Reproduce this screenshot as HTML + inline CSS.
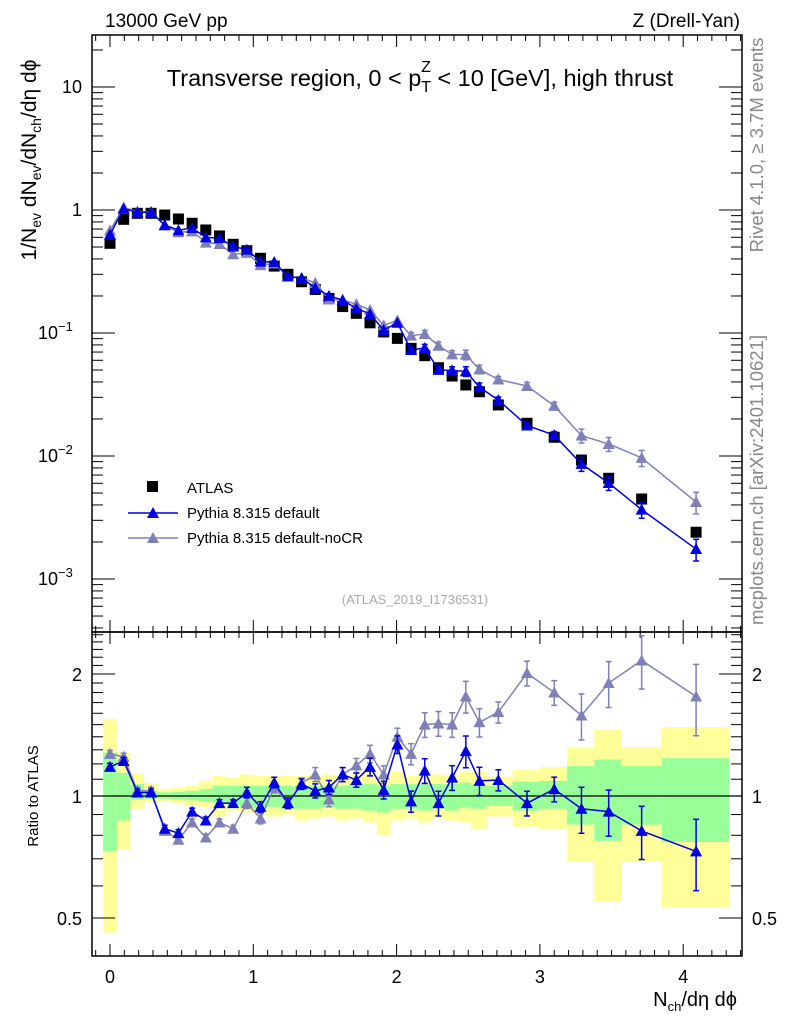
<!DOCTYPE html>
<html><head><meta charset="utf-8"><style>
body{margin:0;background:#fff;}
svg{display:block;font-family:"Liberation Sans",sans-serif;}
</style></head><body>
<svg id="chart" width="786" height="1024" viewBox="0 0 786 1024" xmlns="http://www.w3.org/2000/svg">
<g id="bands"></g>
<g id="axes"></g>
<g id="series"></g>
<text x="105" y="27" font-size="19">13000 GeV pp</text>
<text x="740" y="27" font-size="19" text-anchor="end">Z (Drell-Yan)</text>
<text x="420" y="86" font-size="23.5" text-anchor="middle">Transverse region, 0 &lt; p<tspan font-size="16" dy="6">T</tspan><tspan font-size="16" dx="-10" dy="-20">Z</tspan><tspan dy="14"> &lt; 10 [GeV], high thrust</tspan></text>
<text transform="translate(36,160) rotate(-90)" font-size="21" text-anchor="middle">1/N<tspan font-size="14" dy="5">ev</tspan><tspan dy="-5"> dN</tspan><tspan font-size="14" dy="5">ev</tspan><tspan dy="-5">/dN</tspan><tspan font-size="14" dy="5">ch</tspan><tspan dy="-5">/dη dϕ</tspan></text>
<text transform="translate(38,796) rotate(-90)" font-size="15" text-anchor="middle">Ratio to ATLAS</text>
<text x="737" y="1006" font-size="20" text-anchor="end">N<tspan font-size="13" dy="5">ch</tspan><tspan dy="-5">/dη dϕ</tspan></text>
<text transform="translate(763,145) rotate(-90)" font-size="18.5" fill="#888" text-anchor="middle">Rivet 4.1.0, ≥ 3.7M events</text>
<text transform="translate(763,480) rotate(-90)" font-size="18.5" fill="#888" text-anchor="middle">mcplots.cern.ch [arXiv:2401.10621]</text>
<text x="415" y="604" font-size="13" fill="#aaa" text-anchor="middle">(ATLAS_2019_I1736531)</text>
<g>
<rect x="147" y="481" width="11" height="11" fill="#000"/>
<text x="187" y="493" font-size="15">ATLAS</text>
<line x1="128" y1="513" x2="178" y2="513" stroke="#0000e0" stroke-width="1.5"/>
<path d="M153,507 L159,518 L147,518Z" fill="#0000e0"/>
<text x="187" y="518" font-size="15">Pythia 8.315 default</text>
<line x1="128" y1="538" x2="178" y2="538" stroke="#8080b8" stroke-width="1.5"/>
<path d="M153,532 L159,543 L147,543Z" fill="#8080b8"/>
<text x="187" y="543" font-size="15">Pythia 8.315 default-noCR</text>
</g>
</svg>
<script>
const xVals=[0,0.0955,0.191,0.2865,0.382,0.4775,0.573,0.6685,0.764,0.8595,0.955,1.0505,1.146,1.2415,1.337,1.4325,1.528,1.6235,1.719,1.8145,1.91,2.0055,2.101,2.1965,2.292,2.3875,2.483,2.578,2.71,2.91,3.10,3.29,3.48,3.71,4.09];
const binEdges=[-0.048,0.048,0.143,0.239,0.334,0.43,0.525,0.62,0.716,0.812,0.907,1.003,1.098,1.194,1.289,1.385,1.48,1.576,1.671,1.767,1.862,1.958,2.053,2.149,2.244,2.34,2.435,2.52,2.63,2.81,3.0,3.19,3.38,3.57,3.85,4.32];
const atlas=[0.536,0.84,0.94,0.94,0.91,0.845,0.78,0.688,0.615,0.526,0.467,0.405,0.35,0.30,0.261,0.226,0.191,0.164,0.1445,0.121,0.102,0.0904,0.075,0.0654,0.0522,0.0447,0.0378,0.0333,0.026,0.01845,0.0142,0.00927,0.00659,0.00447,0.0024];
const ratioDefault=[1.18,1.22,1.02,1.02,0.83,0.81,0.915,0.87,0.96,0.96,1.02,0.94,1.08,0.96,1.07,1.03,1.05,1.13,1.095,1.18,1.035,1.34,0.97,1.155,0.96,1.11,1.29,1.09,1.095,0.96,1.04,0.93,0.915,0.82,0.73];
const ratioNoCR=[1.27,1.25,1.03,1.03,0.82,0.78,0.86,0.79,0.86,0.83,0.96,0.88,1.05,0.96,1.075,1.13,0.98,1.13,1.19,1.27,1.13,1.40,1.27,1.50,1.51,1.50,1.76,1.52,1.61,2.01,1.80,1.58,1.90,2.16,1.76];
const relErr=[0.02,0.02,0.02,0.02,0.02,0.02,0.02,0.02,0.02,0.02,0.03,0.03,0.03,0.03,0.03,0.04,0.04,0.04,0.04,0.05,0.05,0.05,0.06,0.07,0.07,0.07,0.09,0.08,0.06,0.07,0.07,0.13,0.13,0.15,0.2];
const yellowUp=[1.55,1.28,1.14,1.075,1.04,1.05,1.06,1.09,1.12,1.11,1.13,1.12,1.12,1.12,1.12,1.12,1.13,1.12,1.13,1.14,1.12,1.15,1.12,1.14,1.13,1.12,1.15,1.15,1.116,1.16,1.18,1.32,1.455,1.32,1.48];
const yellowDn=[0.46,0.74,0.93,0.965,0.97,0.96,0.95,0.94,0.89,0.92,0.91,0.90,0.89,0.90,0.87,0.88,0.89,0.87,0.88,0.86,0.80,0.87,0.88,0.86,0.88,0.87,0.86,0.83,0.89,0.84,0.83,0.69,0.55,0.69,0.53];
const greenUp=[1.28,1.14,1.07,1.03,1.02,1.025,1.03,1.04,1.06,1.06,1.06,1.06,1.06,1.06,1.06,1.06,1.06,1.06,1.07,1.07,1.06,1.07,1.07,1.07,1.07,1.07,1.08,1.06,1.06,1.085,1.09,1.185,1.23,1.185,1.24];
const greenDn=[0.73,0.87,0.98,0.985,0.985,0.98,0.975,0.97,0.96,0.95,0.94,0.93,0.94,0.93,0.93,0.93,0.94,0.93,0.93,0.92,0.91,0.93,0.93,0.92,0.93,0.92,0.935,0.93,0.946,0.92,0.93,0.85,0.775,0.85,0.77];
const xTicks=[0,1,2,3,4];
const mainTicks=[1,0,-1,-2,-3];
const ratioTicks=[2,1,0.5];

const NS="http://www.w3.org/2000/svg";
const L=92,R=742,MT=35,MB=632,RT=632,RB=956;
const X=v=>110+v*143.3;
const YM=v=>210-123*Math.log10(v);
const YR=v=>796-405.3*Math.log10(v);
function mk(tag,attrs,parent){const e=document.createElementNS(NS,tag);for(const k in attrs)e.setAttribute(k,attrs[k]);parent.appendChild(e);return e;}
const axes=document.getElementById('axes'),ser=document.getElementById('series'),bands=document.getElementById('bands');

for(let i=0;i<xVals.length;i++){
  const x1=Math.max(X(binEdges[i]),L+1),x2=X(binEdges[i+1]);
  let r=mk('rect',{x:x1,y:YR(yellowUp[i]),width:x2-x1,height:YR(yellowDn[i])-YR(yellowUp[i]),fill:'#ffff99'},bands);
  
  
  r=mk('rect',{x:x1,y:YR(greenUp[i]),width:x2-x1,height:YR(greenDn[i])-YR(greenUp[i]),fill:'#99ff99'},bands);
  
  
}
let f=mk('rect',{x:L,y:MT,width:R-L,height:MB-MT,fill:'none',stroke:'#000','stroke-width':1.5},axes);


f=mk('rect',{x:L,y:RT,width:R-L,height:RB-RT,fill:'none',stroke:'#000','stroke-width':1.5},axes);


let one=mk('line',{x1:L,x2:R,y1:YR(1),y2:YR(1),stroke:'#000','stroke-width':1.2},axes);


for(let t=-1;t<=44;t++){
  const v=t/10,x=X(v);if(x<L+1||x>R-1)continue;
  const len=(t%10===0)?12:6;
  [[MT,1],[MB,-1],[RT,1],[RB,-1]].forEach(([y,d])=>mk('line',{x1:x,x2:x,y1:y,y2:y+d*len,stroke:'#000'},axes));
}
xTicks.forEach(v=>{const t=mk('text',{x:X(v),y:983,'font-size':18,'text-anchor':'middle'},axes);t.textContent=v;
  
  });
for(let d=-4;d<=1;d++)for(let m=1;m<=9;m++){
  const v=m*Math.pow(10,d),y=YM(v);if(y<MT+1||y>MB-1)continue;
  const len=m===1?23:11;
  mk('line',{x1:L,x2:L+len,y1:y,y2:y,stroke:'#000'},axes);
  mk('line',{x1:R,x2:R-len,y1:y,y2:y,stroke:'#000'},axes);
}
mainTicks.forEach(p=>{const y=YM(Math.pow(10,p))+6;let t;
  if(p===1){t=mk('text',{x:82,y:y,'font-size':18,'text-anchor':'end'},axes);t.textContent='10';}
  else if(p===0){t=mk('text',{x:82,y:y,'font-size':18,'text-anchor':'end'},axes);t.textContent='1';}
  else{t=mk('text',{x:38,y:y,'font-size':18},axes);t.textContent='10';
    const s=mk('tspan',{'font-size':13,dy:-8},t);s.textContent='−'+(-p);}
  
  
});
for(let v=0.4;v<=2.55;v+=0.1){const r=Math.round(v*10)/10;const y=YR(r);if(y<RT+1||y>RB-1)continue;
  const len=(r===0.5||r===1||r===2)?23:11;
  mk('line',{x1:L,x2:L+len,y1:y,y2:y,stroke:'#000'},axes);mk('line',{x1:R,x2:R-len,y1:y,y2:y,stroke:'#000'},axes);}
ratioTicks.forEach(v=>{const y=YR(v)+7;
  let t=mk('text',{x:82,y:y,'font-size':18,'text-anchor':'end'},axes);t.textContent=v;
  
  
  t=mk('text',{x:752,y:y,'font-size':18},axes);t.textContent=v;
  
  });

function tri(x,y,c,g){return mk('path',{d:`M${x},${y-6} L${x+6},${y+5} L${x-6},${y+5}Z`,fill:c},g);}
function drawMC(ratio,color,name){
  const g=mk('g',{},ser);
  
  
  const mainPts=xVals.map((x,i)=>[X(x),YM(atlas[i]*ratio[i])]);
  const ratPts=xVals.map((x,i)=>[X(x),YR(ratio[i])]);
  mk('polyline',{points:mainPts.map(p=>p.join(',')).join(' '),fill:'none',stroke:color,'stroke-width':1.5},g);
  mk('polyline',{points:ratPts.map(p=>p.join(',')).join(' '),fill:'none',stroke:color,'stroke-width':1.5},g);
  xVals.forEach((x,i)=>{
    const e=relErr[i];
    [[YM,atlas[i]*ratio[i]],[YR,ratio[i]]].forEach(([F,v])=>{
      const y1=F(v*(1+e)),y2=F(v*(1-e)),px=X(x);
      if(y2-y1>6){mk('line',{x1:px,x2:px,y1:y1,y2:y2,stroke:color,'stroke-width':1.5},g);
        mk('line',{x1:px-3,x2:px+3,y1:y1,y2:y1,stroke:color,'stroke-width':1.5},g);
        mk('line',{x1:px-3,x2:px+3,y1:y2,y2:y2,stroke:color,'stroke-width':1.5},g);}
      const m=tri(px,F(v),color,g);
      
      
    });
  });
}
const ga=mk('g',{},ser);


xVals.forEach((x,i)=>{const r=mk('rect',{x:X(x)-5.5,y:YM(atlas[i])-5.5,width:11,height:11,fill:'#000'},ga);
  
  });
drawMC(ratioNoCR,'#8080b8','pythia-default-nocr');
drawMC(ratioDefault,'#0000e0','pythia-default');
</script>
</body></html>
